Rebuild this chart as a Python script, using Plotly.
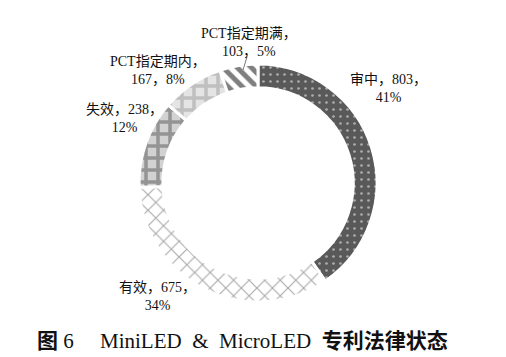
import plotly.graph_objects as go

labels = ["审中", "有效", "失效", "PCT指定期内", "PCT指定期满"]
values = [803, 675, 238, 167, 103]
percents = [41, 34, 12, 8, 5]
# line-break style per label: 0 -> "label，value，<br>pct%", 1 -> "label，<br>value，pct%"
break_style = [0, 0, 0, 1, 1]

# label block centres in pixels (x from left, y from top) -- layout only
label_px = [(380, 81), (149, 288), (116, 110), (150, 62), (241, 34)]

W, H = 506, 357

texts = []
for lab, v, p, b in zip(labels, values, percents, break_style):
    if b == 0:
        texts.append(f"{lab}，{v}，<br>{p}%")
    else:
        texts.append(f"{lab}，<br>{v}，{p}%")

shapes = [".", "x", "+", "+", "\\"]
fgcolors = ["#ffffff", "#555555", "#555555", "#9a9a9a", "#000000"]
bgcolors = ["#595959", "#ffffff", "#d2d2d2", "#e4e4e4", "#ffffff"]
sizes = [7, 11, 12, 12, 10]
solidities = [0.12, 0.2, 0.5, 0.5, 0.5]

cx, cy, r = 250, 175, 119
fig = go.Figure(go.Pie(
    labels=labels,
    values=values,
    textinfo="none",
    sort=False,
    direction="clockwise",
    rotation=0,
    hole=0.8,
    marker=dict(
        colors=bgcolors,
        line=dict(color="#ffffff", width=3),
        pattern=dict(shape=shapes, fgcolor=fgcolors, bgcolor=bgcolors,
                     size=sizes, solidity=solidities, fillmode="overlay"),
    ),
    domain=dict(x=[(cx - r) / W, (cx + r) / W], y=[(H - cy - r) / H, (H - cy + r) / H]),
    showlegend=False,
    hoverinfo="label+value",
))

font_lab = dict(family="Liberation Serif, Noto Sans CJK SC", size=14, color="#111111")
for t, (px, py) in zip(texts, label_px):
    fig.add_annotation(x=px / W, y=1 - py / H, xref="paper", yref="paper",
                       xanchor="center", yanchor="middle", align="center",
                       text=t, showarrow=False, font=font_lab)

# leader line for the smallest slice label
fig.add_shape(type="line", xref="paper", yref="paper",
              x0=239 / W, y0=1 - 49 / H, x1=235 / W, y1=1 - 62 / H,
              line=dict(color="#777777", width=1))

nb = "\u00a0"
caption = (f"<b>图</b>{nb}6{nb * 5}MiniLED{nb * 2}&amp;{nb * 2}MicroLED{nb * 2}<b>专利法律状态</b>")
fig.add_annotation(
    x=234 / W, y=1 - 333 / H, xref="paper", yref="paper", xanchor="center", yanchor="middle",
    text=caption, showarrow=False,
    font=dict(family="Liberation Serif, Noto Sans CJK SC", size=21, color="#111111"),
)

fig.update_layout(
    width=W, height=H,
    margin=dict(l=0, r=0, t=0, b=0),
    paper_bgcolor="#ffffff",
    plot_bgcolor="#ffffff",
)

fig.write_html("out.html")
